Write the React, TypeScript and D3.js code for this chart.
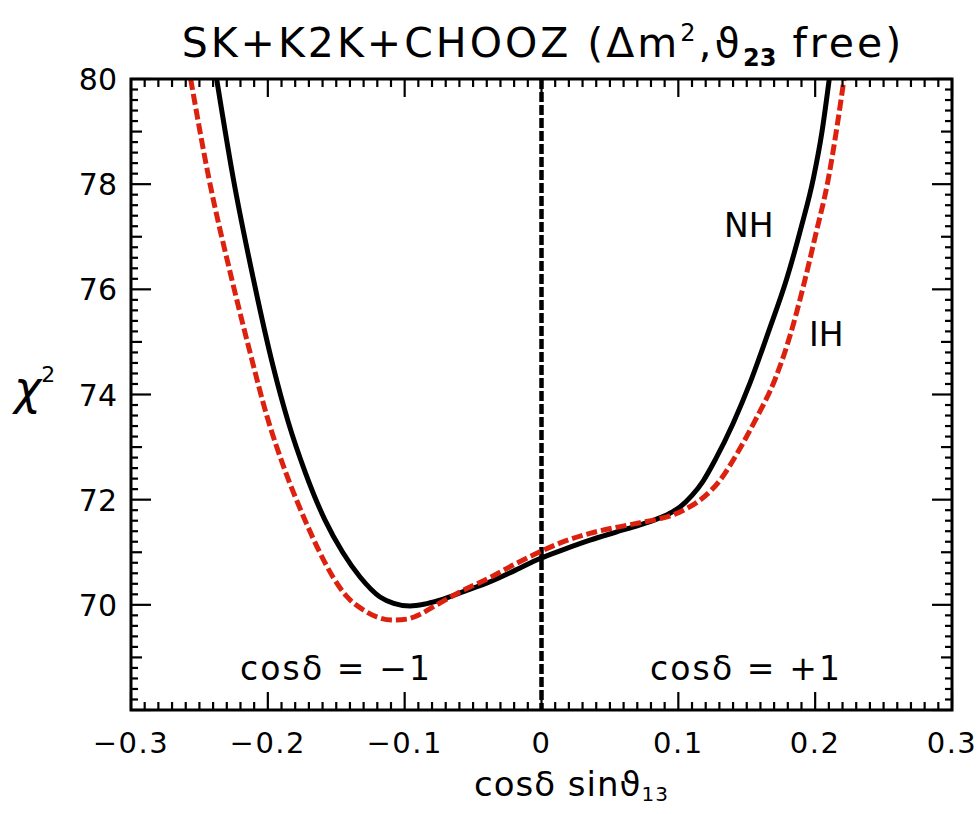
import React from "react";
import * as d3 from "d3";

// ---- data ----
const nhX = [-0.2374, -0.2252, -0.2106, -0.1960, -0.1850, -0.1728, -0.1582, -0.1451, -0.1326, -0.1180, -0.1080, -0.0961, -0.0860, -0.0742, -0.0560, -0.0376, -0.0190, -0.0011, 0.0170, 0.0354, 0.0540, 0.0720, 0.0842, 0.0930, 0.1012, 0.1100, 0.1180, 0.1274, 0.1400, 0.1524, 0.1660, 0.1792, 0.1900, 0.1986, 0.2050, 0.2103];
const nhY = [80.00, 78.10, 76.20, 74.52, 73.47, 72.53, 71.61, 70.99, 70.53, 70.15, 70.03, 69.98, 70.01, 70.09, 70.26, 70.44, 70.66, 70.88, 71.06, 71.23, 71.38, 71.52, 71.63, 71.73, 71.86, 72.08, 72.35, 72.78, 73.45, 74.22, 75.20, 76.20, 77.20, 78.10, 79.00, 80.00];

const ihX = [-0.2564, -0.2430, -0.2264, -0.2130, -0.2008, -0.1875, -0.1728, -0.1619, -0.1524, -0.1420, -0.1300, -0.1204, -0.1083, -0.0980, -0.0912, -0.0766, -0.0600, -0.0376, -0.0190, -0.0011, 0.0170, 0.0354, 0.0540, 0.0720, 0.0850, 0.0961, 0.1060, 0.1158, 0.1305, 0.1430, 0.1560, 0.1707, 0.1820, 0.1913, 0.2000, 0.2096, 0.2160, 0.2211];
const ihY = [80.00, 78.10, 76.20, 74.80, 73.60, 72.56, 71.61, 70.99, 70.53, 70.15, 69.90, 69.77, 69.71, 69.73, 69.79, 70.00, 70.24, 70.52, 70.78, 71.01, 71.21, 71.36, 71.47, 71.56, 71.63, 71.71, 71.83, 71.99, 72.37, 72.88, 73.50, 74.29, 75.15, 76.05, 77.00, 78.10, 79.10, 80.00];

const xTickValues = [-0.3, -0.2, -0.1, 0, 0.1, 0.2, 0.3];
const xTickLabels = ["\u22120.3", "\u22120.2", "\u22120.1", "0", "0.1", "0.2", "0.3"];
const yTickValues = [70, 72, 74, 76, 78, 80];
const yTickLabels = ["70", "72", "74", "76", "78", "80"];

const W = 980, H = 814;
const L = 131, R = 952, T = 79, B = 710;
const RED = "#dc220e";
const FONT = "'DejaVu Sans', sans-serif";

export default function App() {
  const x = d3.scaleLinear().domain([-0.3, 0.3]).range([L, R]);
  const y = d3.scaleLinear().domain([68, 80]).range([B, T]);

  const line = d3
    .line<[number, number]>()
    .x((d) => x(d[0]))
    .y((d) => y(d[1]))
    .curve(d3.curveMonotoneX);

  const nh = nhX.map((v, i) => [v, nhY[i]] as [number, number]);
  const ih = ihX.map((v, i) => [v, ihY[i]] as [number, number]);

  const xMinor = d3.range(-30, 31).map((k) => k / 100);
  const yMinor = d3.range(340, 401).map((k) => k / 5);

  const ticks: JSX.Element[] = [];
  xMinor.forEach((v, i) => {
    const major = Math.abs(Math.round(v * 100)) % 10 === 0;
    const len = major ? 18 : 8;
    const px = x(v);
    ticks.push(<line key={"xb" + i} x1={px} x2={px} y1={B} y2={B - len} stroke="#000" strokeWidth={2.2} />);
    ticks.push(<line key={"xt" + i} x1={px} x2={px} y1={T} y2={T + len} stroke="#000" strokeWidth={2.2} />);
  });
  yMinor.forEach((v, i) => {
    const k = Math.round(v * 5);
    const major = k % 10 === 0;
    const medium = !major && k % 5 === 0;
    const len = major ? 20 : medium ? 11 : 7;
    const py = y(v);
    ticks.push(<line key={"yl" + i} x1={L} x2={L + len} y1={py} y2={py} stroke="#000" strokeWidth={2.2} />);
    ticks.push(<line key={"yr" + i} x1={R} x2={R - len} y1={py} y2={py} stroke="#000" strokeWidth={2.2} />);
  });

  return (
    <svg width={W} height={H} style={{ position: "absolute", left: 0, top: 0, background: "#fff" }} fontFamily={FONT}>
      <defs>
        <clipPath id="plot">
          <rect x={L} y={T} width={R - L} height={B - T} />
        </clipPath>
      </defs>
      <rect x={0} y={0} width={W} height={H} fill="#fff" />

      {/* title */}
      <text x={543} y={57} textAnchor="middle" fontSize={41} letterSpacing={3} fill="#000">
        SK+K2K+CHOOZ (Δm<tspan dy={-16} fontSize={24}>2</tspan>
        <tspan dy={16}>,ϑ</tspan>
        <tspan dy={9} fontSize={24} fontWeight="bold" letterSpacing={0}>23</tspan>
        <tspan dy={-9}> free)</tspan>
      </text>

      <g clipPath="url(#plot)">
        <line x1={x(0)} x2={x(0)} y1={T} y2={B} stroke="#000" strokeWidth={4.5} strokeDasharray="10 3" />
        <path d={line(nh) || ""} fill="none" stroke="#000" strokeWidth={5} strokeLinejoin="round" />
        <path d={line(ih) || ""} fill="none" stroke={RED} strokeWidth={5} strokeDasharray="11 4" />
      </g>

      {ticks}
      <rect x={L} y={T} width={R - L} height={B - T} fill="none" stroke="#000" strokeWidth={3} />

      {xTickValues.map((v, i) => (
        <text key={"xl" + i} x={x(v)} y={753} textAnchor="middle" fontSize={29} letterSpacing={1.5} fill="#000">
          {xTickLabels[i]}
        </text>
      ))}
      {yTickValues.map((v, i) => (
        <text key={"yl" + i} x={117} y={y(v) + 11} textAnchor="end" fontSize={30} fill="#000">
          {yTickLabels[i]}
        </text>
      ))}

      {/* axis titles */}
      <text x={474} y={796} fontSize={34} letterSpacing={1} fill="#000">
        cosδ sinϑ<tspan dy={5} fontSize={20}>13</tspan>
      </text>
      <text x={14} y={404} fontSize={46} fontStyle="italic" fill="#000">
        χ<tspan dy={-22} fontSize={22} fontStyle="normal">2</tspan>
      </text>

      {/* annotations */}
      <text x={724} y={237} fontSize={33} fill="#000">NH</text>
      <text x={809} y={346} fontSize={33} fill="#000">IH</text>
      <text x={240} y={680} fontSize={33} fill="#000" textLength={190} lengthAdjust="spacing">cosδ = −1</text>
      <text x={650} y={680} fontSize={33} fill="#000" textLength={190} lengthAdjust="spacing">cosδ = +1</text>
    </svg>
  );
}
